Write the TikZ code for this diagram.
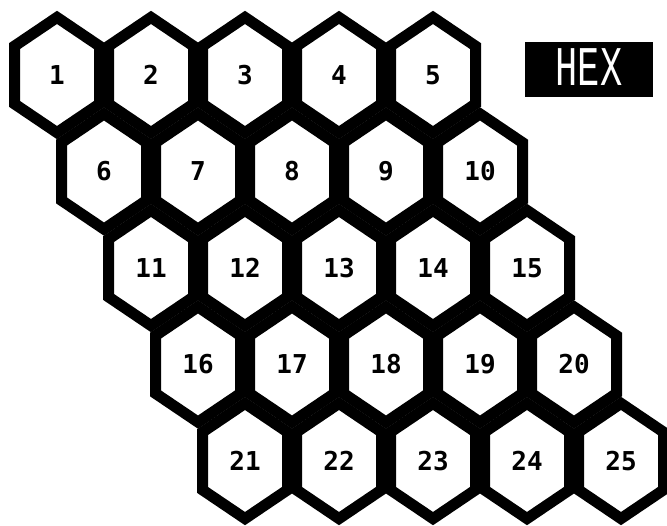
\documentclass[tikz,border=0pt]{standalone}
\usepackage{fontspec}
\newfontfamily\numfont{DejaVu Sans Mono}
\newfontfamily\titfont{Liberation Mono}
\begin{document}
\begin{tikzpicture}[x=1pt,y=-1pt,
    celda/.style={line width=11pt,line join=miter},
    numero/.style={font=\numfont\bfseries\fontsize{26}{26}\selectfont}]
    \useasboundingbox (0,0) rectangle (667,526);

    % Medidas de cada hexagono
    \def\hw{42.5}
    \def\hh{57.6}
    \def\hs{28.9}

    % Tablero 5x5
    \foreach \r in {0,...,4}{
      \foreach \c in {0,...,4}{
        \pgfmathtruncatemacro{\n}{5*\r+\c+1}
        \coordinate (c\n) at ({57+94*\c+47*\r},{75+96.5*\r});
        \draw[celda] ([shift={(0,-\hh)}]c\n) -- ([shift={(\hw,-\hs)}]c\n)
          -- ([shift={(\hw,\hs)}]c\n) -- ([shift={(0,\hh)}]c\n)
          -- ([shift={(-\hw,\hs)}]c\n) -- ([shift={(-\hw,-\hs)}]c\n) -- cycle;
        \node[numero] (n\n) at (c\n) {\n};
      }
    }

    % Titulo
    \node[fill=black,minimum width=128pt,minimum height=55pt,inner sep=0pt]
      (titulo) at (589,70) {};
    \node[text=white,inner sep=0pt] (texto) at ([yshift=3]titulo.center)
      {\scalebox{0.66}[1]{\titfont\fontsize{56}{56}\selectfont HEX}};
\end{tikzpicture}
\end{document}
